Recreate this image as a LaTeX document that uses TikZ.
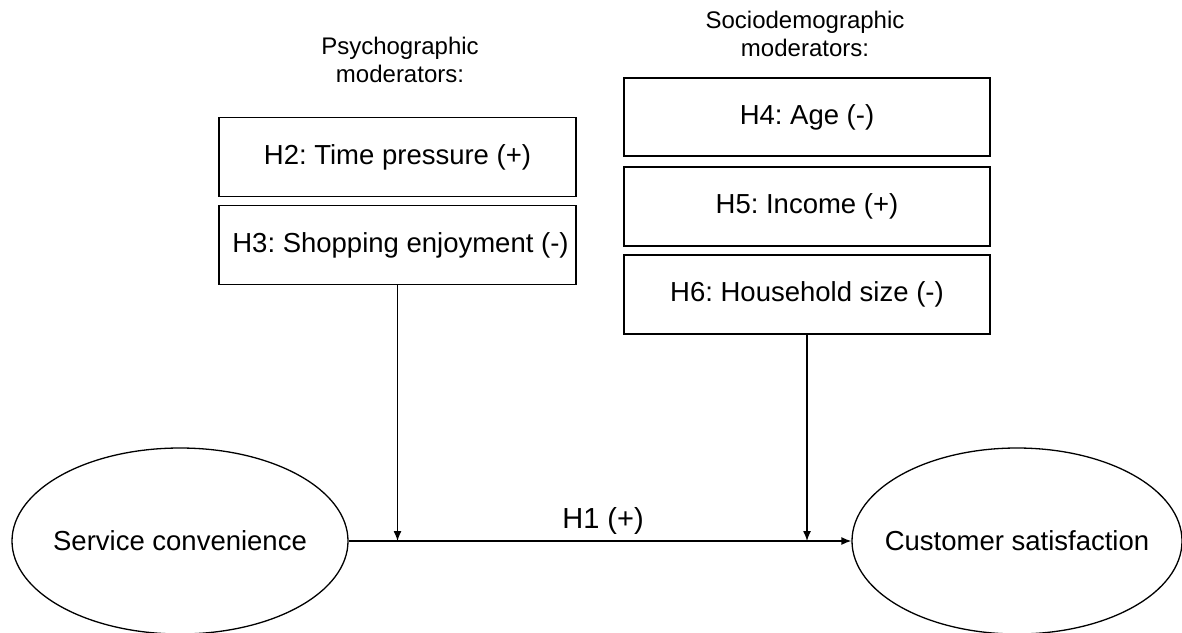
\documentclass[tikz,border=0pt]{standalone}
\usepackage{fontspec}
\setmainfont{Liberation Sans}
\usetikzlibrary{arrows.meta,shapes.geometric}
\frenchspacing
\begin{document}
\begin{tikzpicture}[x=1pt,y=-1pt,
  line width=1.3pt,
  hbox/.style={draw, rectangle, inner sep=0pt, minimum height=79pt, font=\fontsize{27.5}{32}\selectfont},
  construct/.style={draw, ellipse, inner sep=0pt, minimum height=186pt, font=\fontsize{27.5}{32}\selectfont},
  grouplabel/.style={align=center, inner sep=0pt, font=\fontsize{24}{28}\selectfont},
  arr/.style={-{Latex[length=10pt,width=8pt]}}
]
\useasboundingbox (0,0) rectangle (1182,632);

\node[grouplabel] (psy) at (400,60) {Psychographic\\moderators:};
\node[grouplabel] (soc) at (805,34) {Sociodemographic\\moderators:};

\node[hbox, minimum width=357pt] (h2) at (397.5,157) {H2: Time pressure (+)};
\node[hbox, minimum width=357pt] (h3) at (397.5,245) {\hspace*{6pt}H3: Shopping enjoyment (-)};

\node[hbox, minimum width=366pt, minimum height=78pt] (h4) at (807,117) {H4: Age (-)};
\node[hbox, minimum width=366pt] (h5) at (807,206.5) {H5: Income (+)};
\node[hbox, minimum width=366pt] (h6) at (807,294.5) {H6: Household size (-)};

\node[construct, minimum width=336pt] (sc) at (180,541) {\makebox[0pt]{Service convenience}};
\node[construct, minimum width=330pt] (cs) at (1017,541) {\makebox[0pt]{Customer satisfaction}};

\draw[arr] (sc) -- (cs);
\node[anchor=base, inner sep=0pt, font=\fontsize{29}{34}\selectfont] (h1) at (603,528) {H1 (+)};

\draw[arr] (h3.south) -- (h3.south |- sc.east);
\draw[arr] (h6.south) -- (h6.south |- sc.east);
\end{tikzpicture}
\end{document}
